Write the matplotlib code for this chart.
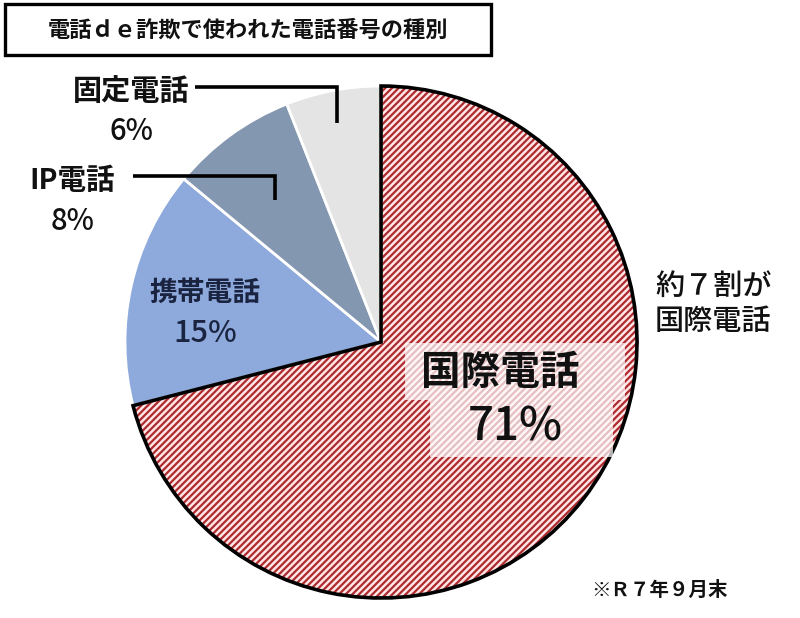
import matplotlib
matplotlib.use("Agg")
import matplotlib.pyplot as plt
from matplotlib.patches import Wedge, Rectangle

plt.rcParams['font.family'] = ['Noto Sans CJK JP', 'DejaVu Sans']
plt.rcParams['hatch.linewidth'] = 1.6

# ---- data ----
categories = ['国際電話', '携帯電話', 'IP電話', '固定電話']
shares = [71, 15, 8, 6]
title = '電話ｄｅ詐欺で使われた電話番号の種別'
note = '※Ｒ７年９月末'
callout = ['約７割が', '国際電話']

colors = ['#FFE6E6', '#8EA9DB', '#8497B0', '#E4E4E4']
H = 618

fig = plt.figure(figsize=(8, 6.18), dpi=100)
ax = fig.add_axes([0, 0, 1, 1])

cx, cy, R = 381, H - 342, 256
wedges, _ = ax.pie(shares, colors=colors, startangle=90, counterclock=False,
                   center=(cx, cy), radius=R, explode=[0.034, 0, 0, 0],
                   wedgeprops=dict(edgecolor='white', linewidth=2.0),
                   frame=False)

# hatched red slice with black outline
red = wedges[0]
red.set_hatch('/////')
red.set_edgecolor('#AE2A2E')
red.set_linewidth(0)
outline = Wedge(red.center, red.r, red.theta1, red.theta2, fill=False,
                edgecolor='black', linewidth=2.6, zorder=red.get_zorder() + 0.5)
ax.add_patch(outline)

ax.set_xlim(0, 800)
ax.set_ylim(0, H)
ax.set_aspect('auto')
ax.axis('off')

# title box
ax.add_patch(Rectangle((5, H - 55), 486, 51, fill=False, edgecolor='black',
                       linewidth=2.4))
ax.text(248, H - 30, title, ha='center', va='center', fontsize=16,
        fontweight='bold', color='#111111')

# big slice label with translucent boxes
ax.add_patch(Rectangle((405, H - 400), 220, 57, facecolor='white',
                       edgecolor='none', alpha=0.7, zorder=4))
ax.add_patch(Rectangle((430, H - 457), 183, 57, facecolor='white',
                       edgecolor='none', alpha=0.7, zorder=4))
ax.text(500, H - 372, categories[0], ha='center', va='center', fontsize=28.5,
        fontweight='bold', color='#111111', zorder=5)
ax.text(515, H - 427, f'{shares[0]}%', ha='center', va='center', fontsize=33,
        fontweight='medium', color='#111111', zorder=5)

# mobile label inside
ax.text(205, H - 293, categories[1], ha='center', va='center', fontsize=20,
        fontweight='bold', color='#1A2440')
ax.text(205, H - 333, f'{shares[1]}%', ha='center', va='center', fontsize=22,
        fontweight='medium', color='#1A2440')

# IP label with leader
ax.text(72, H - 181, categories[2], ha='center', va='center', fontsize=20.5,
        fontweight='bold', color='#111111')
ax.text(73, H - 221, f'{shares[2]}%', ha='center', va='center', fontsize=21,
        fontweight='medium', color='#111111')
ax.plot([133, 275, 275], [H - 176, H - 176, H - 200], color='black',
        linewidth=2.6, solid_joinstyle='miter', solid_capstyle='butt')

# fixed label with leader
ax.text(131, H - 91, categories[3], ha='center', va='center', fontsize=21,
        fontweight='bold', color='#111111')
ax.text(131, H - 132, f'{shares[3]}%', ha='center', va='center', fontsize=21,
        fontweight='medium', color='#111111')
ax.plot([195, 337, 337], [H - 87, H - 87, H - 123], color='black',
        linewidth=2.6, solid_joinstyle='miter', solid_capstyle='butt')

# callout
ax.text(655, H - 286, callout[0], ha='left', va='center', fontsize=21,
        fontweight='medium', color='#111111')
ax.text(655, H - 322, callout[1], ha='left', va='center', fontsize=21,
        fontweight='medium', color='#111111')

# note
ax.text(591, H - 590, note, ha='left', va='center', fontsize=14,
        fontweight='bold', color='#111111')

fig.savefig('out.png', dpi=100, facecolor='white')
